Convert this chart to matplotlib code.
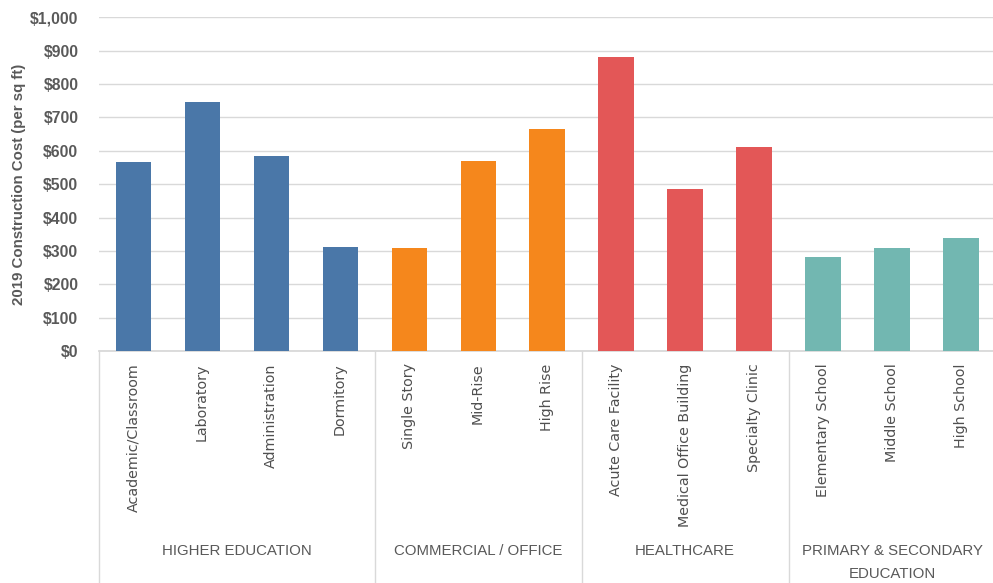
import matplotlib.pyplot as plt
import matplotlib.transforms as mtransforms
from matplotlib.ticker import FuncFormatter

# building types and 2019 cost per sq ft
categories = ["Academic/Classroom", "Laboratory", "Administration", "Dormitory",
              "Single Story", "Mid-Rise", "High Rise",
              "Acute Care Facility", "Medical Office Building", "Specialty Clinic",
              "Elementary School", "Middle School", "High School"]
costs = [567, 747, 585, 312,
         308, 569, 664,
         882, 486, 612,
         282, 309, 339]
groups = ["HIGHER EDUCATION", "COMMERCIAL / OFFICE", "HEALTHCARE",
          "PRIMARY & SECONDARY\nEDUCATION"]
group_sizes = [4, 3, 3, 3]
group_colors = ["#4A77A8", "#F5871C", "#E35757", "#72B7B1"]

bar_colors = []
for c, n in zip(group_colors, group_sizes):
    bar_colors += [c] * n

fig = plt.figure(figsize=(9.93, 5.83), dpi=100)
ax = fig.add_axes([0.0993, 0.398, 0.9033, 0.5723])

x = range(len(categories))
ax.bar(x, costs, width=0.51, color=bar_colors, zorder=3)

ax.set_ylim(0, 1000)
ax.set_xlim(-0.5, len(categories) - 0.5)
ax.set_yticks(range(0, 1001, 100))
ax.yaxis.set_major_formatter(FuncFormatter(lambda v, p: "${:,.0f}".format(v)))
ax.grid(axis="y", color="#D9D9D9", linewidth=1, zorder=0)

for s in ["top", "right", "left"]:
    ax.spines[s].set_visible(False)
ax.spines["bottom"].set_color("#D9D9D9")
ax.spines["bottom"].set_linewidth(1.3)

ax.tick_params(axis="both", length=0, colors="#595959")
for lab in ax.get_yticklabels():
    lab.set_fontfamily("Liberation Sans")
    lab.set_fontweight("bold")
    lab.set_fontsize(11.3)
ax.tick_params(axis="y", pad=14.5)

ax.set_xticks(list(x))
ax.set_xticklabels(categories, rotation=90, fontsize=10.3, family="DejaVu Sans",
                   color="#4F4F4F", va="top")
ax.tick_params(axis="x", pad=9)

ax.set_ylabel("2019 Construction Cost (per sq ft)", fontsize=10.8, fontweight="bold",
              family="Liberation Sans", color="#595959", labelpad=3)

# group separators and group labels under the axis
trans = mtransforms.blended_transform_factory(ax.transData, ax.transAxes)
edges = [-0.5]
for n in group_sizes:
    edges.append(edges[-1] + n)
for e in edges:
    ax.plot([e, e], [0, -0.75], transform=trans, color="#D9D9D9", linewidth=1,
            clip_on=False)

for i, g in enumerate(groups):
    mid = (edges[i] + edges[i + 1]) / 2
    ax.text(mid, -0.58, g, transform=trans, ha="center", va="top",
            fontsize=10.8, family="Liberation Sans",
            color="#595959", linespacing=1.75)

fig.savefig("out.png", dpi=100)
